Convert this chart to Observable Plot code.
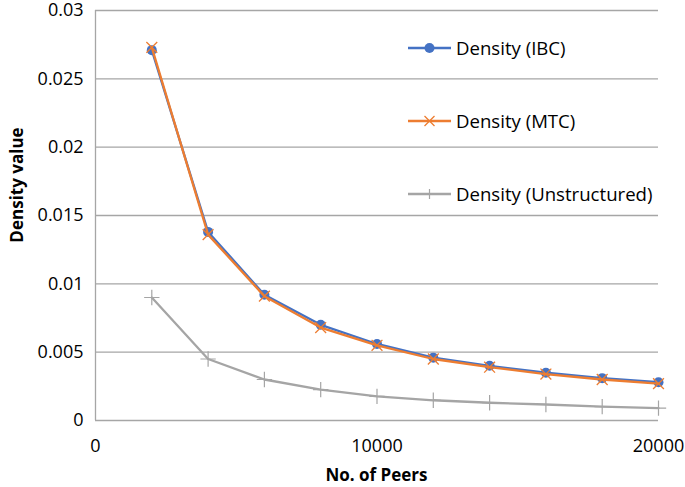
<!DOCTYPE html>
<html><head><meta charset="utf-8">
<script src="https://cdn.jsdelivr.net/npm/d3@7"></script>
<script src="https://cdn.jsdelivr.net/npm/@observablehq/plot@0.6"></script>
<style>body{margin:0;background:#fff;} #chart{position:relative;width:685px;height:487px;}</style>
</head><body><div id="chart"></div>
<script>
const peers = [2000,4000,6000,8000,10000,12000,14000,16000,18000,20000];
const ibc = [0.0271,0.0138,0.0092,0.0070,0.0056,0.0046,0.0040,0.0035,0.0031,0.0028];
const mtc = [0.0273,0.0136,0.0091,0.0068,0.0055,0.0045,0.0039,0.0034,0.0030,0.0027];
const unstructured = [0.0090,0.0045,0.0030,0.00226,0.00177,0.00148,0.0013,0.00117,0.00102,0.0009];
const seriesNames = ["Density (IBC)","Density (MTC)","Density (Unstructured)"];
const colors = ["#4472C4","#ED7D31","#A5A5A5"];
const yTicks = [0,0.005,0.01,0.015,0.02,0.025,0.03];
const xTicks = [0,10000,20000];
const xTitle = "No. of Peers";
const yTitle = "Density value";

const font = "'Open Sans', sans-serif";
const mk = arr => peers.map((p,i)=>({x:p,y:arr[i]}));
const d1 = mk(ibc), d2 = mk(mtc), d3u = mk(unstructured);

const plot = Plot.plot({
  width:685, height:487,
  marginLeft:95, marginRight:27, marginTop:10, marginBottom:67,
  style:{fontFamily:font, fontSize:"18px", color:"#000", background:"#fff"},
  x:{domain:[0,20000], ticks:xTicks, tickSize:0, tickPadding:19, label:null, tickFormat:d=>String(d)},
  y:{domain:[0,0.03], ticks:yTicks, tickSize:0, tickPadding:12, label:null, tickFormat:d=>String(+d.toFixed(3))},
  marks:[
    Plot.ruleY(yTicks, {stroke:"#A6A6A6", strokeWidth:1.3}),
    Plot.ruleX([0], {stroke:"#A6A6A6", strokeWidth:1.3}),
    Plot.line(d3u,{x:"x",y:"y",stroke:colors[2],strokeWidth:2.3}),
    Plot.dot(d3u,{x:"x",y:"y",symbol:"plus",r:5,stroke:colors[2],strokeWidth:1.2}),
    Plot.line(d1,{x:"x",y:"y",stroke:colors[0],strokeWidth:2.3}),
    Plot.dot(d1,{x:"x",y:"y",r:5,fill:colors[0],stroke:"none"}),
    Plot.line(d2,{x:"x",y:"y",stroke:colors[1],strokeWidth:2.3}),
    Plot.dot(d2,{x:"x",y:"y",symbol:"times",r:5,stroke:colors[1],strokeWidth:1.3}),
  ]
});
document.getElementById("chart").appendChild(plot);
const svg = d3.select(plot);

// axis titles
svg.append("text").attr("x",376.5).attr("y",475).attr("dy","0.35em").attr("text-anchor","middle")
  .attr("font-family",font).attr("font-size","17px").attr("font-weight","bold").text(xTitle);
svg.append("text").attr("transform","translate(17,185) rotate(-90)").attr("dy","0.35em").attr("text-anchor","middle")
  .attr("font-family",font).attr("font-size","17px").attr("font-weight","bold").text(yTitle);

// legend
const legY = [48,121,194];
const g = svg.append("g").attr("font-family",font).attr("font-size","18.6px").attr("text-anchor","start");
seriesNames.forEach((name,i)=>{
  const y = legY[i];
  g.append("line").attr("x1",408).attr("x2",451).attr("y1",y).attr("y2",y).attr("stroke",colors[i]).attr("stroke-width",2.3);
  if(i===0) g.append("circle").attr("cx",429.5).attr("cy",y).attr("r",5).attr("fill",colors[0]);
  if(i===1) g.append("path").attr("d",`M${424.5},${y-5}L${434.5},${y+5}M${434.5},${y-5}L${424.5},${y+5}`).attr("stroke",colors[1]).attr("stroke-width",1.3);
  if(i===2) g.append("path").attr("d",`M${429.5},${y-5}V${y+5}`).attr("stroke",colors[2]).attr("stroke-width",1.2);
  g.append("text").attr("x",456).attr("y",y).attr("dy","0.35em").text(name);
});
</script></body></html>
